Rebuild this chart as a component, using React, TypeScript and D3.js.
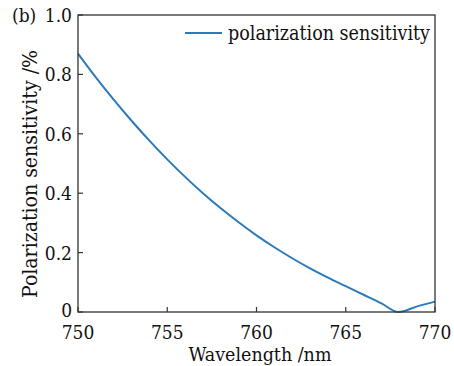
import * as d3 from 'd3'

const wavelengths = [750, 751, 752, 753, 754, 755, 756, 757, 758, 759, 760, 761, 762, 763, 764, 765, 766, 767, 767.95, 769, 770]
const sensitivity = [0.870, 0.790, 0.715, 0.644, 0.577, 0.514, 0.455, 0.400, 0.349, 0.302, 0.258, 0.218, 0.181, 0.147, 0.116, 0.087, 0.058, 0.029, 0.0, 0.019, 0.035]
const xTicks = [750, 755, 760, 765, 770]
const yTicks = [0, 0.2, 0.4, 0.6, 0.8, 1.0]
const seriesName = 'polarization sensitivity'

const W = 454, H = 366
const m = { left: 78, right: 19, top: 15, bottom: 54 }
const FONT = '"DejaVu Serif Condensed", "DejaVu Serif", serif'
const BLUE = '#2b7bbb'
const AXIS = '#333'
const TXT = '#111'

export default function App() {
  const x = d3.scaleLinear().domain([750, 770]).range([m.left, W - m.right])
  const y = d3.scaleLinear().domain([0, 1]).range([H - m.bottom, m.top])
  const pts = wavelengths.map((w, i) => [w, sensitivity[i]] as [number, number])
  const line = d3.line<[number, number]>().x(d => x(d[0])).y(d => y(d[1])).curve(d3.curveMonotoneX)
  const [x0, x1] = x.range()
  const [y0, y1] = y.range()
  const txt = { fontFamily: FONT, fontStretch: 'condensed', fill: TXT } as const

  return (
    <svg width={W} height={H} style={{ position: 'absolute', left: 0, top: 0, background: '#fff' }}>
      <path d={line(pts) ?? ''} fill="none" stroke={BLUE} strokeWidth={2} />
      <rect x={x0} y={y1} width={x1 - x0} height={y0 - y1} fill="none" stroke={AXIS} strokeWidth={1.3} />
      {xTicks.map(t => (
        <g key={t}>
          <line x1={x(t)} x2={x(t)} y1={y0} y2={y0 - 5} stroke={AXIS} strokeWidth={1.2} />
          <text x={x(t)} y={y0 + 27} textAnchor="middle" fontSize={19} {...txt}>{t}</text>
        </g>
      ))}
      {yTicks.map(t => (
        <g key={t}>
          <line x1={x0} x2={x0 + 5} y1={y(t)} y2={y(t)} stroke={AXIS} strokeWidth={1.2} />
          <text x={x0 - 6} y={y(t) + (t === 0 ? 5 : 7)} textAnchor="end" fontSize={19} {...txt}>
            {t === 0 ? '0' : t.toFixed(1)}
          </text>
        </g>
      ))}
      <text x={12} y={22} fontSize={19} {...txt}>(b)</text>
      <text x={260} y={361} textAnchor="middle" fontSize={19} {...txt}
        textLength={143} lengthAdjust="spacingAndGlyphs">Wavelength /nm</text>
      <text transform={`translate(37,174) rotate(-90)`} textAnchor="middle" fontSize={20} {...txt}
        textLength={248} lengthAdjust="spacingAndGlyphs">
        Polarization sensitivity /%
      </text>
      <line x1={185} x2={222} y1={33} y2={33} stroke={BLUE} strokeWidth={2} />
      <text x={228} y={40} fontSize={20} {...txt}
        textLength={202} lengthAdjust="spacingAndGlyphs">{seriesName}</text>
    </svg>
  )
}
